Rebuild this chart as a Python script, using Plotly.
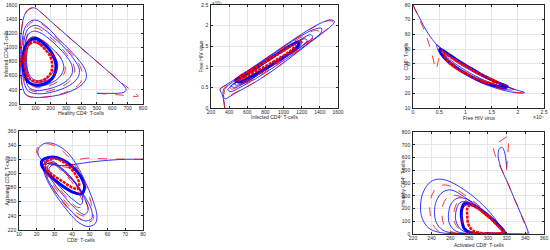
import plotly.graph_objects as go

# ---------------- data ----------------
# Panel 1: Healthy CD4+ (x) vs Infected CD4+ (y)
P1_BLUE = [(500,352),(580,350),(640,352),(675,365),(690,390),(688,420),(670,470),(600,610),(500,800),(400,990),(300,1180),(200,1370),(140,1490),(100,1555),(75,1560),(50,1530),(28,1450),(12,1300),(4,1100),(2,900),(5,650),(15,450),(40,330),(90,295),(170,300),(260,330),(340,390),(400,470),(430,560),(425,680),(390,800),(330,950),(250,1120),(180,1280),(120,1375),(85,1385),(55,1350),(30,1270),(15,1100),(10,900),(14,680),(28,490),(55,380),(110,345),(190,360),(270,410),(340,490),(380,590),(385,700),(355,820),(300,970),(230,1120),(160,1250),(110,1310),(75,1300),(48,1250),(30,1140),(22,950),(24,750),(35,560),(60,430),(110,390),(180,410),(250,460),(310,540),(340,640),(335,760),(300,880),(250,1000),(190,1120),(130,1210),(90,1230),(60,1200),(40,1110),(30,950),(32,780),(42,610),(65,490),(110,450),(170,470),(230,530),(270,620),(285,720),(270,830),(230,940),(180,1040),(130,1120),(95,1150),(65,1130),(48,1050),(38,930),(38,780),(48,640),(70,540),(110,500),(160,520),(210,580),(240,680),(245,770),(225,870),(190,960),(145,1040),(105,1090),(75,1090),(55,1030),(45,920),(43,790),(52,660),(75,570),(110,530),(160,550),(200,610),(225,700),(225,800),(200,890),(160,980),(120,1050),(85,1070)]
P1_RED = [(500,350),(640,330),(770,312),(745,355),(705,425),(650,520),(560,690),(450,890),(340,1100),(240,1290),(160,1450),(110,1540),(80,1555),(52,1525),(30,1445),(13,1290),(5,1100),(3,900),(6,650),(18,440),(45,320),(100,290),(190,305),(280,350),(350,420),(395,510),(405,630),(385,760),(335,910),(270,1060),(200,1220),(135,1340),(92,1370),(60,1330),(35,1240),(20,1090),(15,900),(20,680),(35,500),(65,400),(120,370),(200,390),(275,450),(330,540),(355,650),(345,770),(305,900),(245,1050),(180,1170),(120,1265),(85,1270),(56,1220),(38,1110),(30,940),(32,750),(45,580),(72,470),(115,430),(180,450),(240,510),(280,600),(295,700),(280,810),(240,920),(190,1030),(140,1110),(100,1150),(70,1135),(50,1060),(40,930),(40,780),(50,640),(72,550),(112,510),(165,530),(215,590),(240,690),(240,790),(215,890),(175,980),(130,1050),(95,1080)]
P1_BLUE_CYCLE = [(100,1125),(60,1095),(33,1000),(20,870),(20,720),(33,585),(63,495),(110,465),(162,487),(208,558),(232,660),(234,770),(217,882),(186,985),(146,1072),(100,1125)]
P1_RED_CYCLE = [(100,1080),(64,1050),(40,965),(30,850),(31,722),(43,610),(72,540),(110,518),(152,538),(188,600),(208,690),(208,790),(192,890),(160,980),(126,1050),(100,1080)]

# Panel 2: Infected CD4+ (x) vs Free HIV virus (y, x10^4)
P2_BLUE = [(350,0.0),(345,0.12),(325,0.32),(300,0.45),(380,0.58),(500,0.75),(700,1.05),(900,1.35),(1100,1.65),(1300,1.93),(1430,2.08),(1520,2.14),(1560,2.1),(1530,2.0),(1430,1.82),(1250,1.52),(1050,1.18),(850,0.86),(650,0.58),(500,0.4),(400,0.27),(355,0.22),(335,0.32),(340,0.46),(420,0.6),(600,0.88),(800,1.18),(1000,1.48),(1200,1.76),(1350,1.92),(1420,1.93),(1410,1.82),(1300,1.62),(1100,1.3),(900,1.0),(700,0.72),(520,0.5),(420,0.4),(385,0.44),(420,0.53),(600,0.8),(800,1.1),(1000,1.4),(1200,1.68),(1300,1.78),(1320,1.72),(1200,1.5),(1000,1.2),(800,0.92),(600,0.64),(460,0.5),(420,0.54),(480,0.63),(700,0.95),(900,1.25),(1100,1.52),(1230,1.68),(1260,1.64),(1150,1.42),(950,1.13),(750,0.85),(560,0.6),(465,0.56),(470,0.63),(550,0.75),(750,1.02),(950,1.32),(1120,1.55),(1200,1.62),(1185,1.52),(1050,1.3),(850,1.0),(650,0.72),(510,0.61),(490,0.66)]
P2_RED = [(350,0.0),(342,0.15),(322,0.35),(302,0.46),(380,0.57),(500,0.74),(700,1.04),(900,1.34),(1100,1.64),(1300,1.92),(1420,2.06),(1510,2.12),(1550,2.08),(1515,1.98),(1410,1.8),(1230,1.5),(1030,1.15),(830,0.84),(640,0.57),(490,0.4),(400,0.3),(360,0.28),(345,0.36),(360,0.48),(440,0.6),(620,0.88),(820,1.18),(1020,1.48),(1210,1.74),(1340,1.88),(1385,1.87),(1360,1.77),(1250,1.57),(1060,1.27),(860,0.97),(670,0.7),(510,0.52),(425,0.46),(410,0.5),(450,0.56),(640,0.84),(840,1.14),(1040,1.44),(1200,1.66),(1280,1.74),(1290,1.68),(1180,1.47),(980,1.17),(780,0.89),(590,0.64),(470,0.55),(450,0.6),(520,0.7),(720,0.98),(920,1.28),(1110,1.53),(1200,1.62),(1210,1.56),(1100,1.38),(900,1.08),(700,0.8),(540,0.64),(500,0.66)]
P2_BLUE_CYCLE = [(470,0.67),(600,0.86),(800,1.13),(1000,1.41),(1120,1.57),(1170,1.6),(1150,1.48),(1020,1.27),(820,0.99),(640,0.76),(520,0.63),(470,0.67)]
P2_RED_CYCLE = [(515,0.75),(650,0.93),(850,1.19),(1000,1.39),(1090,1.52),(1125,1.53),(1095,1.42),(960,1.22),(780,0.99),(620,0.8),(540,0.72),(515,0.75)]

# Panel 3: Free HIV virus (x, x10^4) vs CD8+ T-cells (y)
P3_BLUE = [(0,80),(0.1,73),(0.2,66),(0.3,60),(0.45,53),(0.6,48),(0.8,42),(1.0,37.5),(1.2,33.5),(1.4,30),(1.6,27),(1.8,24.3),(2.0,22),(2.13,20.5),(2.05,20.1),(1.8,21.4),(1.6,23.3),(1.4,25.8),(1.2,29),(1.0,33),(0.8,38),(0.6,44),(0.5,48),(0.45,53),(0.6,48.5),(0.8,43),(1.0,38.5),(1.2,34.2),(1.4,30.5),(1.6,27.2),(1.8,24.5),(1.92,22.6),(1.85,22.2),(1.6,24.3),(1.4,26.8),(1.2,30),(1.0,34),(0.8,39),(0.62,44.5),(0.52,50),(0.62,48.2),(0.8,43.5),(1.0,39),(1.2,34.8),(1.4,31),(1.6,27.8),(1.78,25.2),(1.72,24.5),(1.5,26.8),(1.3,29.8),(1.1,33.5),(0.9,37.8),(0.7,43),(0.55,49)]
P3_RED = [(0,80),(0.1,72),(0.2,64),(0.3,54),(0.38,44),(0.44,36),(0.47,40),(0.5,44),(0.55,45),(0.6,44),(0.55,50),(0.5,52),(0.62,47.5),(0.8,42.5),(1.0,38),(1.2,33.8),(1.4,30.2),(1.6,27),(1.8,24.2),(2.0,21.8),(2.1,20.6),(2.0,20.5),(1.8,21.8),(1.6,23.7),(1.4,26.2),(1.2,29.4),(1.0,33.4),(0.8,38.4),(0.62,44),(0.53,49),(0.62,47.6),(0.8,43),(1.0,38.6),(1.2,34.4),(1.4,30.8),(1.6,27.5),(1.8,24.8),(1.86,23.6),(1.7,23.8),(1.5,25.8),(1.3,28.8),(1.1,32.4),(0.9,36.8),(0.7,42),(0.57,48.5)]
P3_BLUE_CYCLE = [(0.52,50),(0.7,46),(0.9,41.2),(1.1,37),(1.3,32.8),(1.5,29.2),(1.7,26),(1.8,24.6),(1.75,23.8),(1.6,24.8),(1.4,26.8),(1.2,29.8),(1.0,33.4),(0.8,38),(0.62,43.4),(0.52,48),(0.52,50)]
P3_RED_CYCLE = [(0.6,47),(0.8,42.6),(1.0,38.6),(1.2,34.6),(1.4,31.1),(1.55,28.6),(1.62,27.2),(1.55,26.6),(1.4,27.6),(1.2,30.1),(1.0,33.6),(0.8,37.6),(0.65,42.2),(0.6,46),(0.6,47)]

# Panel 4: CD8+ T-cells (x) vs Activated CD8+ T-cells (y)
P4_BLUE = [(80,320),(70,320),(60,318.5),(50,316),(42,313),(36,311),(30,312),(25,316),(21,325),(21,335),(24,342),(28,343),(33,338),(38,328),(43,310),(48,285),(52,260),(54,240),(53,229),(49,225),(44,230),(38,245),(32,265),(27,285),(24,303),(24,314),(28,318),(34,308),(41,290),(47,268),(51,248),(51,236),(47,233),(41,243),(35,260),(29,280),(25,300),(25,312),(29,315),(35,303),(42,285),(47,265),(49,248),(47,242),(42,250),(36,266),(30,285),(26,303),(27,313),(31,312),(37,300),(43,282),(46,265),(45,256),(41,262),(35,276),(29,294),(27,308),(31,314)]
P4_RED = [(80,320),(60,320.5),(46,321),(41,316),(40,310),(44,307),(38,308),(30,313),(24,320),(20,330),(21,338),(25,342),(31,338),(37,326),(43,306),(48,280),(51,255),(52,236),(49,231),(43,238),(36,255),(30,276),(26,296),(25,310),(28,316),(34,306),(40,289),(46,268),(49,250),(48,240),(44,242),(38,255),(32,274),(27,294),(26,308),(29,313),(35,301),(41,284),(45,266),(46,254),(43,252),(37,266),(31,285),(27,302),(28,311)]
P4_BLUE_CYCLE = [(23,318),(28,323),(34,320),(40,310),(45,295),(47,280),(45,271),(40,274),(33,285),(27,298),(23,310),(23,318)]
P4_RED_CYCLE = [(25,316),(28,321),(33,319),(38,310),(42,298),(44,285),(43,278),(40,280),(35,288),(29,298),(25,308),(25,316)]

# Panel 5: Activated CD8+ T-cells (x) vs Healthy CD4+ T-cells (y)
P5_BLUE = [(320,520),(319,600),(317,660),(315,680),(312,665),(311,610),(314,520),(320,420),(327,300),(334,180),(340,80),(343,20),(344,4),(330,2),(300,2),(270,3),(250,10),(237,45),(230,120),(228,220),(231,330),(239,410),(247,430),(257,418),(272,360),(290,260),(305,145),(314,50),(318,6),(305,2),(285,2),(265,6),(252,30),(245,90),(243,170),(245,260),(252,330),(261,345),(275,290),(290,200),(305,100),(315,20),(317,4),(298,2),(280,4),(266,22),(259,80),(258,160),(261,240),(268,282),(278,272),(294,190),(308,90),(316,15),(300,3),(285,5),(272,30),(266,100),(266,180),(270,245),(278,252),(292,185),(306,95),(315,20),(303,4),(288,8),(276,40),(272,120),(273,200),(278,232)]
P5_RED = [(320,500),(321,600),(322,700),(322,765),(316,742),(310,712),(306,680),(307,640),(311,560),(317,470),(323,370),(329,265),(335,160),(340,60),(342,6),(325,2),(295,2),(265,4),(248,20),(241,80),(238,180),(239,280),(245,360),(254,385),(266,350),(283,265),(300,160),(311,70),(317,8),(300,2),(280,3),(262,15),(254,60),(251,140),(252,230),(258,295),(268,300),(282,240),(297,150),(310,65),(316,10),(298,2),(282,6),(270,35),(264,100),(264,180),(268,250),(276,262),(290,190),(304,100),(314,25),(300,4),(286,8),(276,45),(272,130),(274,210),(280,240)]
P5_BLUE_CYCLE = [(275,238),(285,222),(298,160),(310,80),(318,6),(300,2),(283,5),(275,40),(272,120),(272,190),(275,238)]
P5_RED_CYCLE = [(281,228),(290,198),(300,140),(310,70),(317,10),(310,3),(295,6),(284,28),(279,80),(278,150),(278,200),(281,228)]

# Axis ticks
P1_XTICKS = [0,100,200,300,400,500,600,700,800]
P1_YTICKS = [200,400,600,800,1000,1200,1400,1600]
P2_XTICKS = [200,400,600,800,1000,1200,1400,1600]
P2_YTICKS = [0,0.5,1,1.5,2,2.5]
P3_XTICKS = [0,0.5,1,1.5,2,2.5]
P3_YTICKS = [10,20,30,40,50,60,70,80]
P4_XTICKS = [10,20,30,40,50,60,70,80]
P4_YTICKS = [220,240,260,280,300,320,340,360]
P5_XTICKS = [220,240,260,280,300,320,340,360]
P5_YTICKS = [0,100,200,300,400,500,600,700,800]

# Axis titles
P1_TITLES = ("Healthy CD4\u207a T-cells", "Infected CD4\u207a T-cells")
P2_TITLES = ("Infected CD4\u207a T-cells", "Free HIV virus")
P3_TITLES = ("Free HIV virus", "CD8\u207a T-cells")
P4_TITLES = ("CD8\u207a T-cells", "Activated CD8\u207a T-cells")
P5_TITLES = ("Activated CD8\u207a T-cells", "Healthy CD4\u207a T-cells")
EXPONENT = "\u00d710\u2074"

# ---------------- figure ----------------
W, H = 550, 250
FONT = "Liberation Sans, Arial, sans-serif"
TXT = "#262626"
BLUE = "#0000ff"
RED = "#ff0000"

fig = go.Figure()

def px_dom(a, b, total, flip=False):
    if flip:
        return [1 - b / total, 1 - a / total]
    return [a / total, b / total]

# (xaxis, yaxis, x pixels, y pixels, xrange, yrange, xticks, yticks, titles,
#  x-title y pixel, y-title x pixel, data)
panels = [
    ("x", "y", (20, 143), (5, 104), [0, 800], [200, 1600], P1_XTICKS, P1_YTICKS,
     P1_TITLES, 113, 6, (P1_BLUE, P1_RED, P1_BLUE_CYCLE, P1_RED_CYCLE)),
    ("x2", "y2", (211, 338), (5, 108), [200, 1600], [0, 2.5], P2_XTICKS, P2_YTICKS,
     P2_TITLES, 117, 201, (P2_BLUE, P2_RED, P2_BLUE_CYCLE, P2_RED_CYCLE)),
    ("x3", "y3", (413, 544), (5, 108), [0, 2.5], [10, 80], P3_XTICKS, P3_YTICKS,
     P3_TITLES, 118, 406, (P3_BLUE, P3_RED, P3_BLUE_CYCLE, P3_RED_CYCLE)),
    ("x4", "y4", (19, 143), (131, 230), [10, 80], [220, 360], P4_XTICKS, P4_YTICKS,
     P4_TITLES, 240, 6, (P4_BLUE, P4_RED, P4_BLUE_CYCLE, P4_RED_CYCLE)),
    ("x5", "y5", (413, 544), (132, 234), [220, 360], [0, 800], P5_XTICKS, P5_YTICKS,
     P5_TITLES, 245, 403, (P5_BLUE, P5_RED, P5_BLUE_CYCLE, P5_RED_CYCLE)),
]

layout_axes = {}
for xa, ya, xp, yp, xr, yr, xt, yt, titles, xty, ytx, data in panels:
    blue, red, bcyc, rcyc = data
    def add(pts, color, width, dash):
        xs = [p[0] for p in pts]
        ys = [p[1] for p in pts]
        fig.add_trace(go.Scatter(x=xs, y=ys, mode="lines", xaxis=xa, yaxis=ya,
                                 line=dict(color=color, width=width, dash=dash,
                                           shape="spline", smoothing=1.0),
                                 showlegend=False, hoverinfo="skip"))
    add(blue, BLUE, 0.8, "solid")
    add(bcyc, BLUE, 3, "solid")
    add(red, RED, 0.8, "dash")
    add(rcyc, RED, 2.5, "3px,1px")

    xkey = "xaxis" + xa[1:]
    ykey = "yaxis" + ya[1:]
    common = dict(showline=True, linecolor=TXT, linewidth=0.6, mirror="ticks",
                  ticks="inside", ticklen=2, tickwidth=0.5, tickcolor=TXT,
                  showgrid=True, gridcolor="#e6e6e6", gridwidth=0.5,
                  zeroline=False, tickfont=dict(size=5, color=TXT, family=FONT),
                  fixedrange=True, automargin=False)
    layout_axes[xkey] = dict(common, domain=px_dom(xp[0], xp[1], W), range=xr,
                             tickvals=xt, ticktext=[f"{v:g}" for v in xt],
                             anchor=ya, ticklabelstandoff=-1)
    layout_axes[ykey] = dict(common, domain=px_dom(yp[0], yp[1], H, flip=True), range=yr,
                             tickvals=yt, ticktext=[f"{v:g}" for v in yt],
                             anchor=xa, ticklabelstandoff=1)
    fig.add_annotation(text=titles[0], xref="paper", yref="paper",
                       x=(xp[0] + xp[1]) / 2 / W, y=1 - xty / H,
                       xanchor="center", yanchor="middle", showarrow=False,
                       font=dict(size=5, color=TXT, family=FONT))
    fig.add_annotation(text=titles[1], xref="paper", yref="paper",
                       x=ytx / W, y=1 - (yp[0] + yp[1]) / 2 / H, textangle=-90,
                       xanchor="center", yanchor="middle", showarrow=False,
                       font=dict(size=5, color=TXT, family=FONT))

fig.update_layout(width=W, height=H, margin=dict(l=0, r=0, t=0, b=0, autoexpand=False),
                  paper_bgcolor="white", plot_bgcolor="white", **layout_axes)

fig.add_annotation(text=EXPONENT, xref="paper", yref="paper",
                   x=211 / W, y=1.0, xanchor="left", yanchor="top",
                   showarrow=False, borderpad=0,
                   font=dict(size=4.5, color=TXT, family=FONT))
fig.add_annotation(text=EXPONENT, xref="paper", yref="paper",
                   x=538 / W, y=1 - 117 / H, xanchor="center", yanchor="middle",
                   showarrow=False, font=dict(size=5, color=TXT, family=FONT))

fig.write_html("out.html", config={"displayModeBar": False},
               post_script="document.body.style.margin='0';document.body.style.overflow='hidden';")
